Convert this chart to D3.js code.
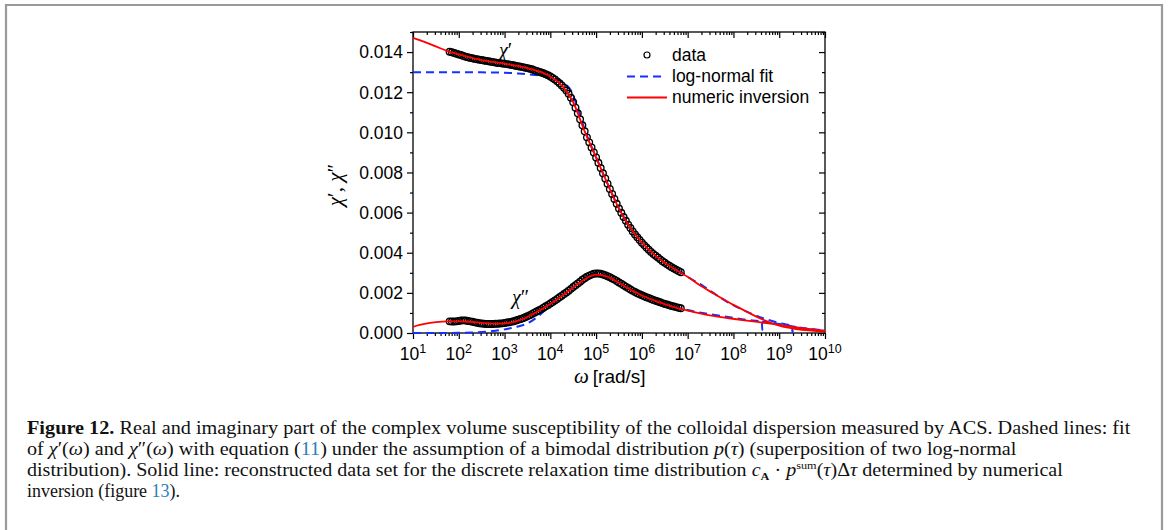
<!DOCTYPE html>
<html><head><meta charset="utf-8">
<script src="https://cdn.jsdelivr.net/npm/d3@7"></script>
<style>
html,body{margin:0;padding:0;background:#fff;}
svg{display:block;}
</style></head>
<body>
<svg id="chart" width="1168" height="530"></svg>
<script>
// ---------- DATA ----------
const dataLogOmega = [1.80,1.85,1.90,1.95,2.00,2.05,2.10,2.15,2.20,2.25,2.30,2.35,2.40,2.45,2.50,2.55,2.60,2.65,2.70,2.75,2.80,2.85,2.90,2.95,3.00,3.05,3.10,3.15,3.20,3.25,3.30,3.35,3.40,3.45,3.50,3.55,3.60,3.65,3.70,3.75,3.80,3.85,3.90,3.95,4.00,4.05,4.10,4.15,4.20,4.25,4.30,4.35,4.40,4.45,4.50,4.55,4.60,4.65,4.70,4.75,4.80,4.85,4.90,4.95,5.00,5.05,5.10,5.15,5.20,5.25,5.30,5.35,5.40,5.45,5.50,5.55,5.60,5.65,5.70,5.75,5.80,5.85,5.90,5.95,6.00,6.05,6.10,6.15,6.20,6.25,6.30,6.35,6.40,6.45,6.50,6.55,6.60,6.65,6.70,6.75,6.80,6.85];
const dataChiReal = [0.01402,0.01399,0.01395,0.01392,0.01388,0.01385,0.01381,0.01377,0.01374,0.01371,0.01369,0.01366,0.01364,0.01362,0.01360,0.01358,0.01356,0.01354,0.01352,0.01350,0.01348,0.01346,0.01345,0.01343,0.01342,0.01340,0.01338,0.01336,0.01334,0.01331,0.01329,0.01327,0.01325,0.01322,0.01320,0.01317,0.01314,0.01310,0.01306,0.01302,0.01298,0.01294,0.01289,0.01284,0.01278,0.01271,0.01263,0.01254,0.01245,0.01234,0.01222,0.01208,0.01192,0.01172,0.01150,0.01123,0.01095,0.01065,0.01035,0.01005,0.00975,0.00950,0.00925,0.00900,0.00875,0.00848,0.00822,0.00796,0.00770,0.00744,0.00718,0.00693,0.00668,0.00644,0.00620,0.00599,0.00578,0.00559,0.00540,0.00523,0.00506,0.00491,0.00477,0.00463,0.00450,0.00438,0.00426,0.00415,0.00404,0.00394,0.00385,0.00376,0.00367,0.00358,0.00350,0.00342,0.00335,0.00328,0.00321,0.00315,0.00309,0.00303];
const dataChiImag = [0.00058,0.00057,0.00057,0.00058,0.00060,0.00062,0.00063,0.00062,0.00060,0.00058,0.00056,0.00053,0.00051,0.00049,0.00047,0.00046,0.00045,0.00045,0.00045,0.00045,0.00046,0.00046,0.00047,0.00048,0.00050,0.00052,0.00054,0.00056,0.00059,0.00062,0.00066,0.00070,0.00074,0.00078,0.00083,0.00089,0.00095,0.00101,0.00107,0.00113,0.00119,0.00126,0.00133,0.00140,0.00147,0.00154,0.00162,0.00170,0.00178,0.00186,0.00194,0.00202,0.00211,0.00220,0.00229,0.00238,0.00247,0.00256,0.00265,0.00273,0.00280,0.00286,0.00291,0.00295,0.00297,0.00297,0.00295,0.00292,0.00288,0.00283,0.00278,0.00272,0.00266,0.00259,0.00252,0.00245,0.00238,0.00231,0.00224,0.00217,0.00210,0.00204,0.00198,0.00193,0.00188,0.00183,0.00178,0.00174,0.00169,0.00165,0.00161,0.00157,0.00153,0.00149,0.00145,0.00142,0.00138,0.00135,0.00132,0.00129,0.00126,0.00123];

const fitRealLogOmega = [1.0,2.0,2.5,3.0,3.3,3.6,3.9,4.1,4.3,4.45,4.6,4.75,5.0,5.25,5.5,5.75,6.0,6.5,6.85,7.0,7.34,7.63,7.92,8.21,8.5,8.76,9.08,9.28,9.29,9.30,9.37,9.7,10.0];
const fitReal = [0.01300,0.01300,0.01299,0.01297,0.01293,0.01287,0.01278,0.01266,0.01245,0.01208,0.01120,0.01015,0.00875,0.00744,0.00620,0.00523,0.00450,0.00350,0.00305,0.00280,0.00234,0.00189,0.00148,0.00115,0.00086,0.00065,0.00046,0.00035,0.00000,0.00034,0.00028,0.00017,0.00011];
const fitImagLogOmega = [1.0,1.5,2.0,2.5,2.8,3.0,3.26,3.5,3.77,4.0,4.2,4.5,4.8,5.0,5.2,5.5,5.8,6.1,6.5,6.85,7.2,7.6,8.0,8.3,8.62,8.63,8.64,9.0,9.4,9.7,10.0];
const fitImag = [0.00000,0.00000,0.00001,0.00005,0.00011,0.00018,0.00030,0.00048,0.00090,0.00140,0.00178,0.00229,0.00280,0.00296,0.00288,0.00252,0.00210,0.00178,0.00145,0.00122,0.00105,0.00090,0.00075,0.00065,0.00057,0.00015,0.00056,0.00045,0.00029,0.00020,0.00012];

const invRealLogOmega = [1.0,1.25,1.5,1.75,2.0,2.5,3.0,3.5,4.0,4.25,4.5,4.75,5.0,5.25,5.5,5.75,6.0,6.25,6.5,6.85,7.0,7.25,7.56,8.0,8.29,8.65,9.0,9.37,9.7,10.0];
const invReal = [0.01471,0.01451,0.01428,0.01405,0.01388,0.01360,0.01342,0.01320,0.01278,0.01234,0.01150,0.01005,0.00875,0.00744,0.00620,0.00523,0.00450,0.00394,0.00350,0.00300,0.00280,0.00240,0.00198,0.00140,0.00106,0.00066,0.00037,0.00020,0.00012,0.00007];
const invImagLogOmega = [1.0,1.25,1.5,1.75,2.0,2.25,2.5,2.75,3.0,3.25,3.5,3.75,4.0,4.25,4.5,4.75,5.0,5.25,5.5,5.75,6.0,6.25,6.5,6.85,7.0,7.56,8.29,8.85,9.37,10.0];
const invImag = [0.00031,0.00045,0.00054,0.00058,0.00058,0.00056,0.00050,0.00047,0.00048,0.00058,0.00080,0.00111,0.00145,0.00184,0.00227,0.00268,0.00291,0.00281,0.00250,0.00216,0.00187,0.00164,0.00144,0.00120,0.00112,0.00085,0.00062,0.00045,0.00028,0.00010];

const xExponents = [1,2,3,4,5,6,7,8,9,10];
const yMajorTicks = [0,0.002,0.004,0.006,0.008,0.010,0.012,0.014];
const yMinorTicks = [0.001,0.003,0.005,0.007,0.009,0.011,0.013,0.015];
const legendLabels = ["data","log-normal fit","numeric inversion"];

// ---------- SETUP ----------
const svg = d3.select("#chart");
const L = 413, R = 825, T = 32, B = 333;
const x = d3.scaleLog().domain([1e1, 1e10]).range([L, R]);
const y = d3.scaleLinear().domain([0, 0.015]).range([B, T]);
const SANS = "'Liberation Sans', Arial, sans-serif";
const SERIF = "'Liberation Serif', 'Times New Roman', serif";
const RED = "#ff0000", BLUE = "#1530ff";

// frame
svg.append("path").attr("d", "M6,530 V5 H1162 V530").attr("fill","none")
  .attr("stroke","#9a9a9a").attr("stroke-width",2.2);

// ---------- AXES ----------
const xMinor = x.ticks().filter(v => !xExponents.some(e => Math.abs(Math.log10(v) - e) < 1e-9));
const xMajor = xExponents.map(e => Math.pow(10, e));
function styleAxis(g){ g.select(".domain").remove(); g.selectAll("line").attr("stroke","#000").attr("stroke-width",1.2); g.selectAll("text").remove(); }

svg.append("g").attr("transform",`translate(0,${B})`).call(d3.axisBottom(x).tickValues(xMajor).tickSize(6).tickFormat("")).call(styleAxis);
svg.append("g").attr("transform",`translate(0,${B})`).call(d3.axisBottom(x).tickValues(xMinor).tickSize(3).tickFormat("")).call(styleAxis);
svg.append("g").attr("transform",`translate(0,${T})`).call(d3.axisBottom(x).tickValues(xMajor).tickSize(6).tickFormat("")).call(styleAxis);
svg.append("g").attr("transform",`translate(0,${T})`).call(d3.axisBottom(x).tickValues(xMinor).tickSize(3).tickFormat("")).call(styleAxis);
svg.append("g").attr("transform",`translate(${L},0)`).call(d3.axisLeft(y).tickValues(yMajorTicks).tickSize(6).tickFormat("")).call(styleAxis);
svg.append("g").attr("transform",`translate(${L},0)`).call(d3.axisLeft(y).tickValues(yMinorTicks).tickSize(3).tickFormat("")).call(styleAxis);
svg.append("g").attr("transform",`translate(${R},0)`).call(d3.axisLeft(y).tickValues(yMajorTicks).tickSize(6).tickFormat("")).call(styleAxis);
svg.append("g").attr("transform",`translate(${R},0)`).call(d3.axisLeft(y).tickValues(yMinorTicks).tickSize(3).tickFormat("")).call(styleAxis);

// y tick labels
svg.append("g").selectAll("text").data(yMajorTicks).join("text")
  .attr("x", L - 10).attr("y", d => y(d)).attr("dy","0.36em")
  .attr("text-anchor","end").attr("font-family",SANS).attr("font-size",17.5)
  .text(d => d3.format(".3f")(d));

// x tick labels
const xl = svg.append("g").selectAll("text").data(xExponents).join("text")
  .attr("x", d => x(Math.pow(10,d))).attr("y", 360)
  .attr("text-anchor","middle").attr("font-family",SANS).attr("font-size",17.5);
xl.append("tspan").text("10");
xl.append("tspan").attr("font-size",12.5).attr("dy",-7).text(d => d);

// x axis title
const xt = svg.append("text").attr("x", 574).attr("y", 383).attr("font-size",19);
xt.append("tspan").attr("font-family",SERIF).attr("font-style","italic").attr("font-size",21).text("ω");
xt.append("tspan").attr("font-family",SANS).attr("dx",4).text("[rad/s]");

// y axis title
const yt = svg.append("text").attr("transform",`translate(342,185) rotate(-90)`)
  .attr("text-anchor","middle").attr("font-family",SERIF).attr("font-size",21);
yt.append("tspan").attr("font-style","italic").text("χ");
yt.append("tspan").text("′, ");
yt.append("tspan").attr("font-style","italic").text("χ");
yt.append("tspan").text("″");

// frame of the plot
svg.append("rect").attr("x",L).attr("y",T).attr("width",R-L).attr("height",B-T)
  .attr("fill","none").attr("stroke","#000").attr("stroke-width",1.3);

// ---------- CURVES ----------
const line = d3.line().x(d => x(Math.pow(10,d[0]))).y(d => y(d[1])).curve(d3.curveMonotoneX);
const zip = (a,b) => a.map((v,i) => [v,b[i]]);

const plot = svg.append("g");
plot.append("path").attr("d", line(zip(fitRealLogOmega, fitReal))).attr("fill","none")
  .attr("stroke",BLUE).attr("stroke-width",2).attr("stroke-dasharray","8,5");
plot.append("path").attr("d", line(zip(fitImagLogOmega, fitImag))).attr("fill","none")
  .attr("stroke",BLUE).attr("stroke-width",2).attr("stroke-dasharray","8,5");

const pts = zip(dataLogOmega, dataChiReal).concat(zip(dataLogOmega, dataChiImag));
plot.append("g").selectAll("circle").data(pts).join("circle")
  .attr("cx", d => x(Math.pow(10,d[0]))).attr("cy", d => y(d[1])).attr("r",3.3)
  .attr("fill","none").attr("stroke","#000").attr("stroke-width",1.35);

plot.append("path").attr("d", line(zip(invRealLogOmega, invReal))).attr("fill","none")
  .attr("stroke",RED).attr("stroke-width",1.8);
plot.append("path").attr("d", line(zip(invImagLogOmega, invImag))).attr("fill","none")
  .attr("stroke",RED).attr("stroke-width",1.8);

// curve annotations
const a1 = svg.append("text").attr("x",499).attr("y",57).attr("font-family",SERIF).attr("font-size",20);
a1.append("tspan").attr("font-style","italic").text("χ"); a1.append("tspan").text("′");
const a2 = svg.append("text").attr("x",512).attr("y",304).attr("font-family",SERIF).attr("font-size",20);
a2.append("tspan").attr("font-style","italic").text("χ"); a2.append("tspan").text("″");

// ---------- LEGEND ----------
const lg = svg.append("g");
lg.append("circle").attr("cx",647).attr("cy",55).attr("r",3).attr("fill","none").attr("stroke","#000").attr("stroke-width",1.2);
lg.append("line").attr("x1",627).attr("x2",662).attr("y1",76.5).attr("y2",76.5).attr("stroke",BLUE).attr("stroke-width",2).attr("stroke-dasharray","8,5");
lg.append("line").attr("x1",627).attr("x2",667).attr("y1",97.5).attr("y2",97.5).attr("stroke",RED).attr("stroke-width",1.8);
lg.selectAll("text").data(legendLabels).join("text")
  .attr("x",672).attr("y",(d,i) => 61 + i*20.8).attr("font-family",SANS).attr("font-size",17.5).text(d => d);

// ---------- CAPTION ----------
function capLine(parts, x0, y0, right){
  const t = svg.append("text").attr("x",x0).attr("y",y0).attr("font-family",SERIF).attr("font-size",18).attr("fill","#111");
  parts.forEach(p => {
    const [s, st] = Array.isArray(p) ? p : [p, ""];
    const ts = t.append("tspan").text(s);
    if (st.includes("b")) ts.attr("font-weight","bold");
    if (st.includes("i")) ts.attr("font-style","italic");
    if (st.includes("c")) ts.attr("fill","#2a7fb8");
    if (st.includes("sub")) ts.attr("font-size",11).attr("dy",4);
    if (st.includes("sup")) ts.attr("font-size",11).attr("dy",-7);
    if (st.includes("rs")) ts.attr("dy",-4);
    if (st.includes("rp")) ts.attr("dy",7);
  });
  const w = t.node().getComputedTextLength();
  if (right) t.attr("transform",`translate(${x0},0) scale(${(right-x0)/w},1) translate(${-x0},0)`);
}
capLine([["Figure 12.","b"]," Real and imaginary part of the complex volume susceptibility of the colloidal dispersion measured by ACS. Dashed lines: fit"], 27, 434, 1131);
capLine(["of ",["χ","i"],"′(",["ω","i"],") and ",["χ","i"],"″(",["ω","i"],") with equation (",["11","c"],") under the assumption of a bimodal distribution  ",["p","i"],"(",["τ","i"],") (superposition of two log-normal"], 27, 455, 1017);
capLine(["distribution). Solid line: reconstructed data set for the discrete relaxation time distribution ",["c","i"],["A","sub"],[" · ","rs"],["p","i"],["sum","sup"],["(","rp"],["τ","i"],")Δ",["τ","i"]," determined by numerical"], 27, 476, 1064);
capLine(["inversion (figure ",["13","c"],")."], 27, 497, 180);
</script>
</body></html>
